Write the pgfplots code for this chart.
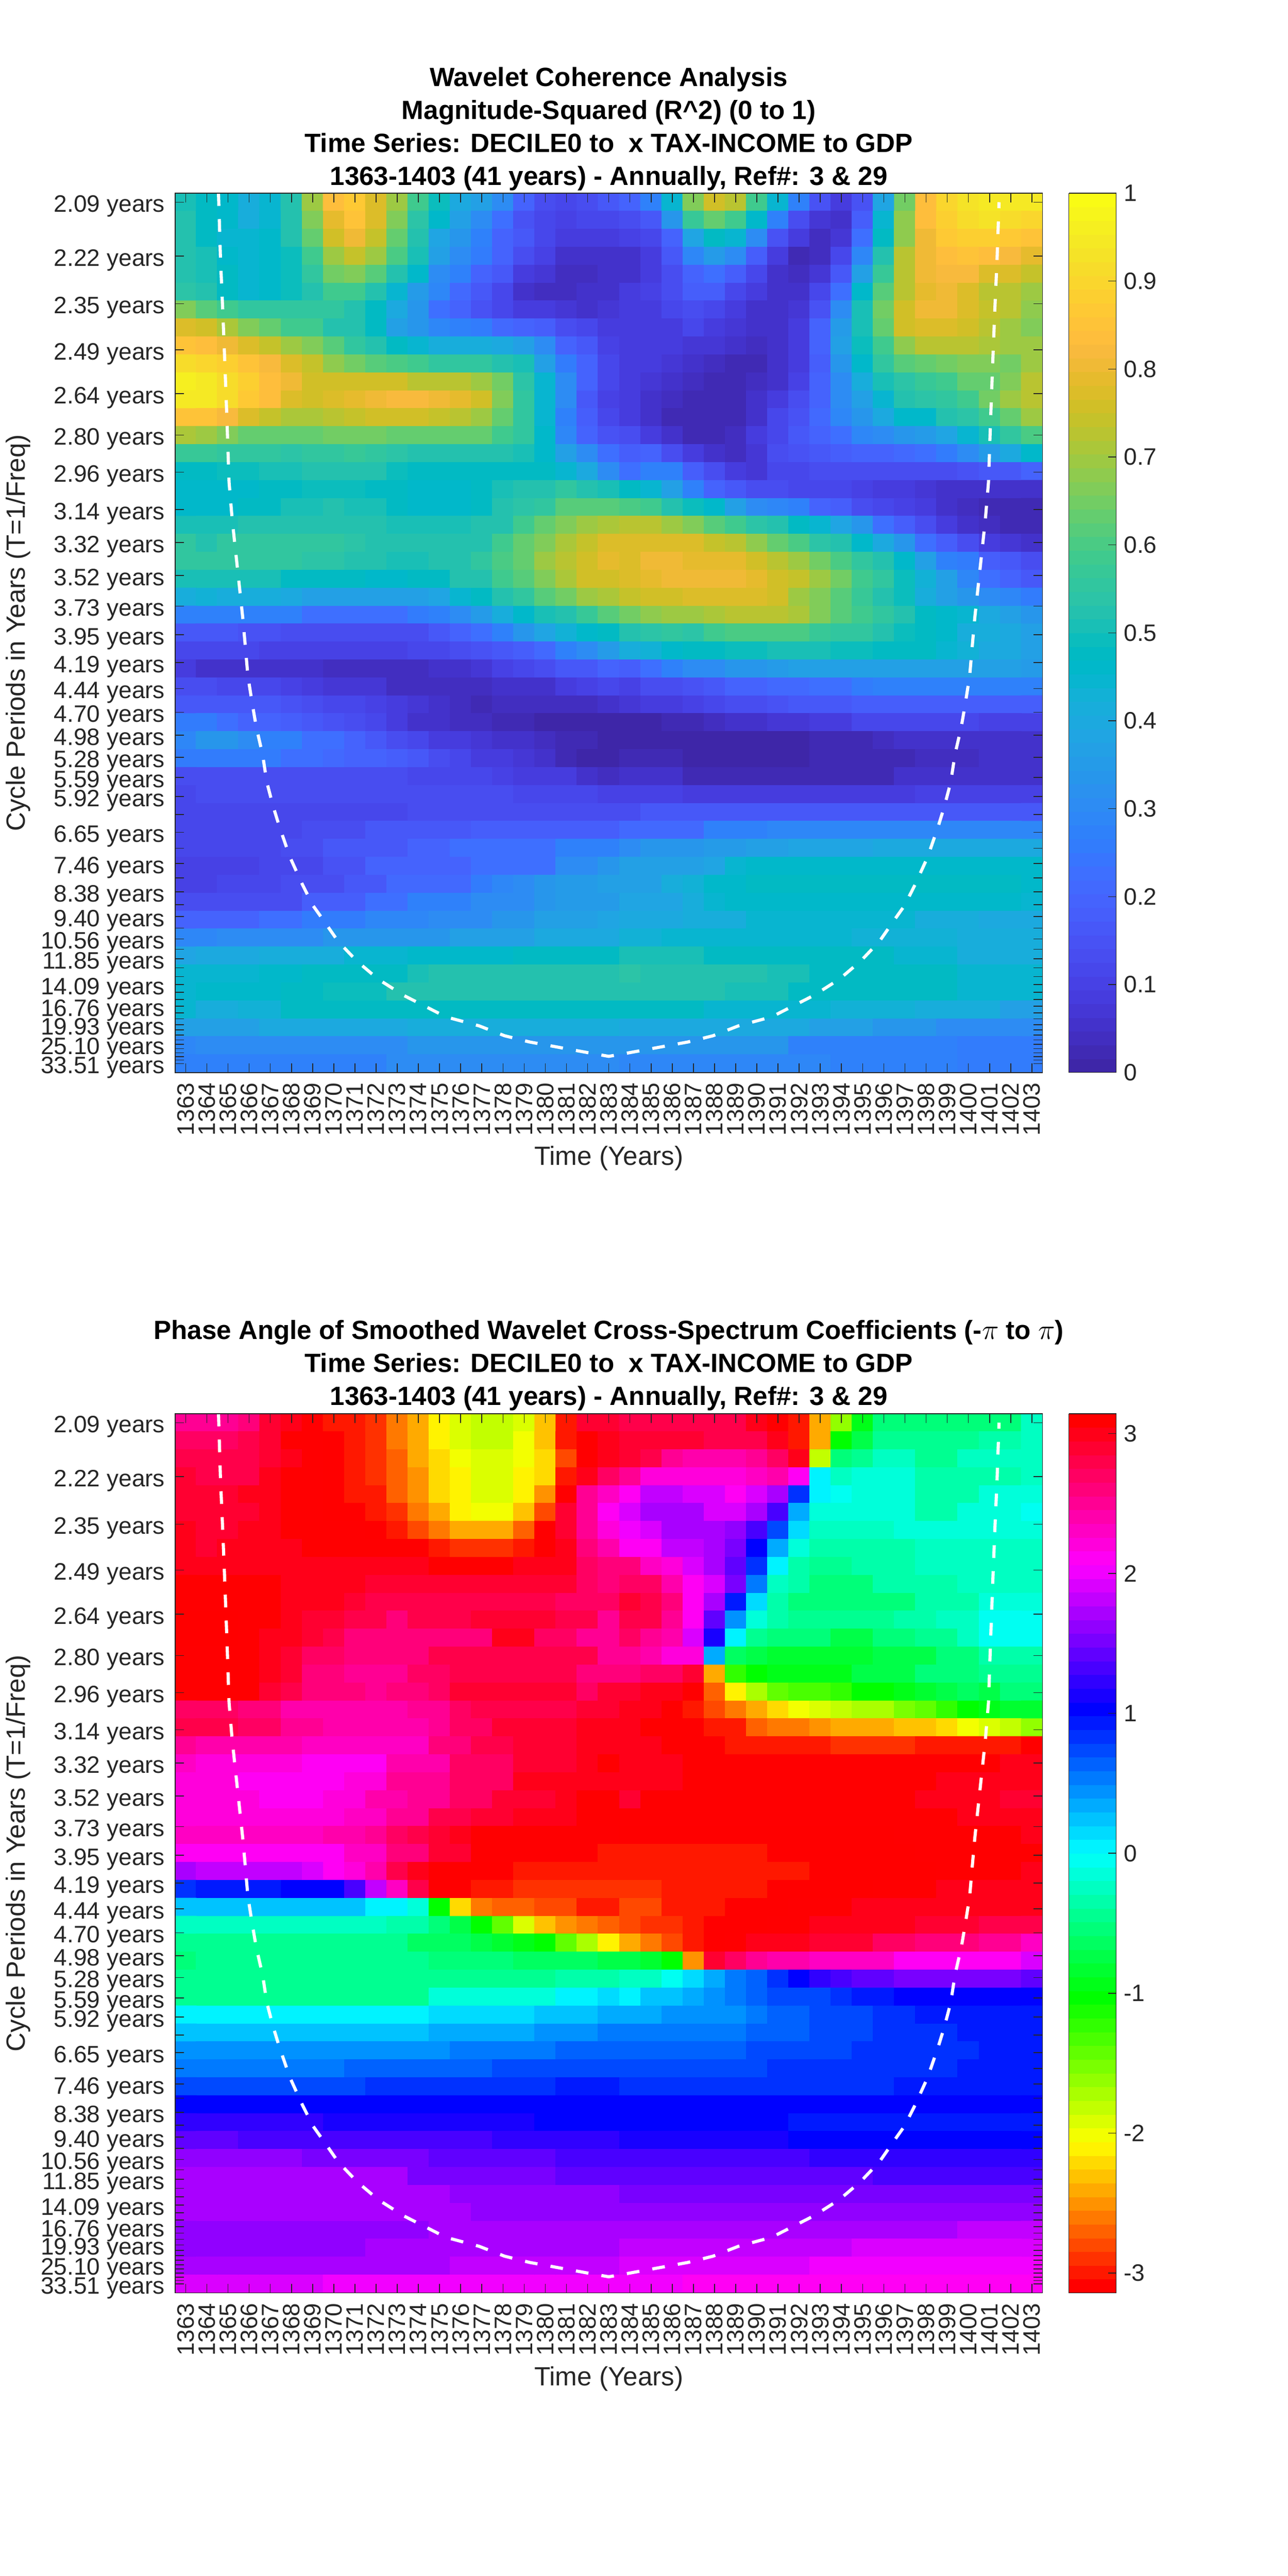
\documentclass[border=0pt]{standalone}
\usepackage{pgfplots}
\usepackage{pgfplotstable}
\usepackage{fontspec}
\setmainfont{Liberation Sans}
\pgfplotsset{compat=1.18}
\definecolor{axgray}{HTML}{262626}
\pgfplotsset{colormap={parula}{
rgb=(.2422,.1504,.6603) rgb=(.2504,.1650,.7076) rgb=(.2578,.1818,.7511) rgb=(.2647,.1978,.7952)
rgb=(.2706,.2147,.8364) rgb=(.2751,.2342,.8710) rgb=(.2783,.2559,.8991) rgb=(.2803,.2782,.9221)
rgb=(.2813,.3006,.9414) rgb=(.2810,.3228,.9579) rgb=(.2795,.3447,.9717) rgb=(.2760,.3667,.9829)
rgb=(.2699,.3892,.9906) rgb=(.2602,.4123,.9952) rgb=(.2440,.4358,.9988) rgb=(.2206,.4603,.9973)
rgb=(.1963,.4847,.9892) rgb=(.1834,.5074,.9798) rgb=(.1786,.5289,.9682) rgb=(.1764,.5499,.9520)
rgb=(.1687,.5703,.9359) rgb=(.1540,.5902,.9218) rgb=(.1460,.6091,.9079) rgb=(.1380,.6276,.8973)
rgb=(.1248,.6459,.8883) rgb=(.1113,.6635,.8763) rgb=(.0952,.6798,.8598) rgb=(.0689,.6948,.8394)
rgb=(.0297,.7082,.8163) rgb=(.0036,.7203,.7917) rgb=(.0067,.7312,.7660) rgb=(.0433,.7411,.7394)
rgb=(.0964,.7500,.7120) rgb=(.1408,.7584,.6842) rgb=(.1717,.7670,.6554) rgb=(.1938,.7758,.6251)
rgb=(.2161,.7843,.5923) rgb=(.2470,.7918,.5567) rgb=(.2906,.7973,.5188) rgb=(.3406,.8008,.4789)
rgb=(.3909,.8029,.4354) rgb=(.4456,.8024,.3909) rgb=(.5044,.7993,.3480) rgb=(.5616,.7942,.3045)
rgb=(.6174,.7876,.2612) rgb=(.6720,.7793,.2227) rgb=(.7242,.7698,.1910) rgb=(.7738,.7598,.1646)
rgb=(.8203,.7498,.1535) rgb=(.8634,.7406,.1596) rgb=(.9035,.7330,.1774) rgb=(.9393,.7288,.2099)
rgb=(.9728,.7298,.2394) rgb=(.9956,.7434,.2371) rgb=(.9970,.7659,.2199) rgb=(.9952,.7893,.2028)
rgb=(.9892,.8136,.1885) rgb=(.9786,.8386,.1766) rgb=(.9676,.8639,.1643) rgb=(.9610,.8890,.1537)
rgb=(.9597,.9135,.1423) rgb=(.9628,.9373,.1265) rgb=(.9691,.9606,.1064) rgb=(.9769,.9839,.0805)}}
\pgfplotsset{colormap={hsvbase}{rgb=(1,0,0) rgb=(1,1,0) rgb=(0,1,0) rgb=(0,1,1) rgb=(0,0,1) rgb=(1,0,1) rgb=(1,0,0)}}
\pgfplotsset{colormap={hsvsixtyfour}{samples of colormap=(64 of hsvbase)}}
\pgfplotstableread[header=false]{
.50 .48 .46 .42 .45 .53 .70 .84 .87 .78 .70 .58 .49 .40 .36 .30 .19 .13 .11 .14 .17 .19 .27 .44 .66 .76 .72 .58 .44 .27 .15 .09 .15 .38 .65 .83 .90 .93 .95 .95 .94
.52 .47 .46 .42 .45 .52 .66 .79 .85 .77 .67 .54 .46 .36 .30 .22 .15 .12 .10 .11 .12 .13 .17 .33 .57 .64 .58 .46 .27 .13 .07 .06 .18 .44 .68 .84 .89 .92 .93 .92 .90
.52 .48 .45 .44 .46 .52 .63 .75 .80 .74 .63 .52 .38 .34 .28 .20 .16 .12 .08 .08 .08 .10 .12 .20 .38 .48 .44 .30 .15 .08 .04 .07 .22 .48 .68 .81 .87 .89 .88 .87 .85
.52 .50 .46 .45 .46 .49 .59 .70 .74 .70 .60 .50 .36 .30 .26 .19 .14 .10 .06 .05 .05 .06 .09 .16 .29 .35 .30 .18 .09 .03 .04 .12 .29 .52 .72 .80 .84 .85 .84 .82 .79
.53 .51 .48 .45 .46 .49 .55 .65 .66 .62 .52 .46 .30 .27 .20 .16 .09 .07 .04 .04 .05 .06 .08 .13 .20 .22 .18 .11 .06 .04 .07 .17 .36 .57 .73 .80 .82 .82 .78 .77 .74
.54 .52 .48 .45 .46 .49 .52 .58 .58 .52 .45 .35 .29 .21 .17 .12 .06 .04 .04 .05 .06 .08 .10 .14 .18 .18 .12 .08 .05 .05 .12 .22 .46 .62 .72 .79 .81 .78 .73 .72 .70
.66 .62 .58 .55 .55 .55 .55 .55 .52 .48 .40 .34 .23 .19 .15 .12 .09 .08 .07 .06 .07 .08 .09 .12 .13 .11 .09 .06 .05 .07 .15 .30 .50 .65 .76 .81 .81 .77 .74 .72 .68
.78 .75 .71 .67 .63 .58 .59 .53 .52 .48 .37 .33 .29 .28 .26 .21 .20 .18 .14 .11 .08 .08 .08 .09 .11 .09 .07 .05 .05 .08 .19 .35 .51 .64 .75 .78 .78 .76 .72 .70 .67
.85 .84 .80 .77 .74 .69 .66 .62 .56 .52 .48 .44 .42 .41 .41 .40 .36 .30 .20 .16 .10 .09 .08 .08 .07 .07 .05 .04 .05 .09 .19 .36 .49 .58 .68 .72 .72 .72 .71 .70 .70
.92 .90 .88 .85 .82 .77 .74 .68 .65 .62 .60 .58 .56 .55 .55 .53 .51 .37 .26 .19 .11 .09 .08 .07 .05 .04 .03 .03 .05 .09 .18 .34 .46 .55 .61 .63 .65 .66 .66 .65 .70
.96 .95 .92 .88 .84 .81 .76 .75 .75 .75 .75 .73 .73 .72 .70 .65 .54 .45 .30 .20 .12 .09 .07 .05 .04 .03 .03 .04 .06 .10 .19 .31 .41 .50 .54 .57 .59 .63 .64 .66 .73
.94 .94 .91 .87 .83 .78 .76 .77 .79 .81 .82 .82 .80 .79 .76 .67 .56 .45 .30 .16 .10 .08 .05 .04 .03 .03 .03 .05 .09 .13 .20 .30 .36 .45 .52 .54 .55 .59 .65 .69 .72
.85 .85 .82 .77 .74 .71 .71 .72 .74 .75 .75 .75 .74 .73 .70 .64 .56 .44 .28 .18 .11 .08 .05 .03 .02 .02 .03 .05 .11 .15 .21 .29 .34 .40 .46 .46 .52 .54 .59 .64 .69
.71 .69 .67 .63 .63 .64 .64 .65 .65 .65 .64 .64 .64 .64 .63 .58 .55 .46 .29 .20 .15 .14 .08 .05 .03 .03 .04 .08 .12 .17 .20 .23 .29 .31 .33 .35 .38 .45 .50 .55 .60
.57 .57 .56 .55 .55 .54 .55 .56 .57 .56 .54 .53 .52 .52 .52 .52 .51 .46 .37 .30 .22 .18 .20 .14 .09 .05 .04 .07 .13 .15 .17 .18 .19 .20 .21 .22 .26 .30 .35 .40 .46
.48 .48 .49 .49 .50 .50 .52 .52 .52 .52 .49 .48 .48 .47 .48 .48 .48 .47 .44 .40 .31 .23 .28 .27 .18 .14 .09 .07 .11 .12 .13 .14 .14 .14 .14 .14 .14 .15 .16 .17 .19
.46 .46 .46 .46 .48 .48 .49 .49 .49 .48 .47 .46 .46 .46 .47 .50 .52 .53 .55 .53 .50 .47 .45 .36 .27 .20 .17 .14 .13 .12 .11 .11 .10 .09 .08 .07 .06 .05 .05 .06 .06
.46 .46 .46 .48 .48 .50 .50 .52 .50 .50 .48 .46 .46 .46 .48 .52 .54 .55 .61 .61 .61 .60 .58 .52 .49 .46 .36 .30 .29 .27 .20 .18 .14 .12 .10 .08 .05 .04 .03 .02 .02
.50 .50 .50 .52 .52 .52 .53 .53 .52 .52 .50 .50 .50 .50 .52 .52 .58 .64 .67 .69 .71 .72 .72 .70 .66 .62 .58 .54 .52 .48 .44 .38 .33 .23 .18 .14 .09 .06 .04 .03 .02
.55 .53 .55 .55 .55 .55 .55 .55 .54 .52 .52 .52 .52 .52 .53 .59 .63 .67 .71 .74 .77 .78 .77 .77 .77 .74 .72 .68 .63 .60 .54 .52 .46 .40 .34 .23 .18 .14 .09 .07 .05
.55 .55 .55 .55 .55 .55 .54 .54 .52 .52 .50 .50 .52 .52 .56 .60 .63 .69 .72 .76 .79 .78 .80 .81 .79 .79 .79 .76 .72 .70 .65 .60 .55 .52 .46 .37 .28 .26 .18 .17 .13
.50 .51 .51 .51 .51 .48 .48 .47 .47 .46 .46 .47 .47 .52 .53 .58 .62 .67 .71 .75 .76 .77 .79 .81 .81 .81 .81 .79 .76 .74 .70 .65 .58 .55 .49 .43 .37 .29 .22 .20 .17
.41 .43 .42 .42 .42 .40 .36 .36 .36 .36 .36 .37 .38 .44 .48 .52 .56 .61 .65 .69 .71 .74 .75 .75 .77 .77 .77 .77 .75 .70 .66 .62 .57 .52 .49 .42 .37 .34 .31 .29 .26
.28 .28 .28 .28 .27 .27 .22 .22 .22 .22 .22 .26 .28 .30 .35 .42 .46 .50 .52 .57 .62 .65 .68 .70 .70 .71 .72 .72 .72 .71 .66 .62 .58 .55 .52 .48 .46 .44 .40 .36 .33
.17 .17 .17 .15 .15 .14 .14 .14 .14 .14 .14 .14 .17 .19 .22 .27 .33 .38 .43 .46 .48 .52 .54 .55 .54 .58 .60 .60 .60 .60 .57 .56 .55 .53 .49 .48 .46 .42 .41 .40 .36
.11 .11 .11 .11 .10 .10 .10 .10 .10 .10 .10 .11 .12 .13 .15 .16 .18 .21 .27 .30 .35 .42 .43 .46 .48 .48 .49 .49 .50 .50 .50 .49 .49 .48 .48 .47 .45 .43 .40 .40 .37
.08 .06 .06 .06 .06 .05 .05 .04 .04 .04 .04 .04 .06 .06 .07 .10 .12 .14 .17 .17 .19 .18 .22 .28 .30 .31 .33 .34 .35 .36 .36 .36 .36 .36 .36 .36 .36 .36 .36 .36 .35
.13 .13 .12 .12 .11 .10 .09 .07 .07 .07 .04 .04 .04 .04 .04 .05 .05 .05 .09 .10 .11 .10 .14 .14 .15 .16 .19 .20 .21 .21 .22 .23 .26 .27 .27 .27 .27 .27 .27 .27 .27
.17 .17 .17 .17 .16 .15 .13 .12 .11 .10 .09 .07 .06 .04 .03 .04 .04 .04 .04 .04 .05 .07 .08 .09 .10 .11 .13 .14 .15 .16 .16 .16 .18 .18 .18 .18 .18 .18 .18 .18 .18
.26 .26 .22 .20 .20 .18 .17 .15 .14 .11 .09 .06 .05 .04 .04 .03 .03 .01 .01 .01 .01 .01 .01 .03 .03 .04 .06 .06 .07 .07 .09 .09 .11 .11 .12 .12 .12 .12 .10 .10 .10
.29 .33 .33 .30 .28 .27 .23 .22 .20 .17 .14 .12 .09 .08 .07 .06 .05 .04 .02 .02 0 0 0 0 0 0 0 0 0 0 .03 .03 .03 .04 .05 .05 .06 .06 .06 .06 .06
.26 .26 .26 .26 .26 .23 .22 .21 .20 .19 .18 .16 .14 .12 .09 .08 .07 .06 .02 .01 .01 .03 .02 .02 0 0 0 0 0 0 .02 .02 .02 .02 .03 .04 .04 .04 .05 .05 .05
.14 .14 .14 .14 .14 .14 .14 .14 .14 .13 .13 .12 .12 .12 .11 .10 .09 .08 .08 .06 .04 .05 .05 .05 .03 .03 .03 .03 .03 .03 .03 .03 .03 .03 .05 .05 .05 .05 .05 .06 .06
.11 .13 .13 .13 .13 .13 .13 .13 .13 .13 .13 .13 .13 .13 .13 .13 .12 .12 .11 .11 .10 .10 .10 .10 .09 .09 .09 .09 .09 .09 .09 .09 .09 .09 .09 .10 .10 .10 .10 .10 .10
.11 .12 .12 .12 .11 .11 .11 .12 .12 .12 .12 .14 .14 .14 .14 .14 .14 .14 .14 .14 .14 .14 .16 .16 .16 .16 .16 .16 .16 .16 .16 .16 .16 .16 .16 .16 .16 .16 .16 .16 .16
.11 .11 .12 .12 .12 .12 .13 .14 .14 .16 .16 .16 .16 .16 .18 .18 .18 .18 .18 .18 .18 .21 .21 .21 .21 .27 .27 .27 .29 .29 .29 .29 .29 .29 .29 .29 .29 .29 .29 .29 .29
.11 .11 .12 .12 .12 .13 .13 .16 .16 .17 .17 .20 .20 .22 .22 .22 .22 .22 .27 .27 .27 .31 .33 .34 .34 .35 .35 .37 .37 .38 .38 .38 .38 .40 .40 .40 .40 .40 .40 .40 .40
.10 .10 .10 .10 .12 .12 .12 .15 .15 .19 .19 .19 .19 .19 .22 .22 .22 .22 .30 .30 .33 .36 .36 .37 .37 .38 .44 .46 .46 .46 .46 .46 .46 .46 .46 .46 .46 .46 .46 .46 .46
.10 .10 .11 .11 .11 .13 .13 .13 .16 .16 .21 .21 .21 .21 .26 .29 .30 .33 .35 .35 .36 .37 .37 .41 .43 .46 .46 .47 .47 .47 .47 .47 .47 .47 .47 .47 .47 .47 .47 .47 .46
.13 .13 .14 .14 .14 .14 .18 .18 .18 .22 .22 .27 .27 .27 .30 .30 .30 .33 .35 .35 .35 .38 .38 .38 .42 .45 .46 .46 .46 .46 .46 .46 .46 .46 .46 .46 .46 .46 .46 .46 .44
.19 .19 .20 .20 .22 .22 .26 .26 .26 .29 .29 .29 .31 .31 .31 .34 .34 .36 .36 .36 .38 .40 .40 .40 .42 .42 .42 .44 .44 .44 .44 .44 .44 .44 .44 .42 .42 .42 .40 .40 .40
.29 .29 .31 .31 .31 .31 .31 .34 .34 .34 .34 .34 .34 .36 .36 .36 .36 .40 .40 .40 .40 .43 .43 .45 .45 .45 .45 .45 .45 .45 .45 .45 .43 .43 .43 .43 .43 .41 .41 .41 .41
.38 .40 .40 .40 .42 .42 .42 .42 .45 .45 .45 .46 .46 .46 .46 .46 .48 .48 .48 .48 .48 .50 .50 .50 .50 .47 .47 .47 .47 .47 .47 .47 .47 .47 .44 .44 .44 .42 .42 .42 .42
.45 .45 .45 .45 .46 .46 .47 .47 .48 .48 .48 .50 .52 .52 .52 .52 .52 .52 .52 .52 .52 .54 .52 .52 .52 .52 .52 .52 .50 .50 .47 .47 .47 .47 .47 .47 .47 .44 .44 .44 .44
.45 .46 .46 .46 .46 .48 .48 .49 .49 .49 .52 .52 .52 .52 .52 .52 .53 .53 .53 .53 .53 .52 .52 .52 .52 .52 .50 .50 .50 .47 .47 .47 .47 .47 .47 .47 .47 .45 .45 .45 .45
.44 .42 .42 .43 .43 .47 .47 .47 .47 .47 .47 .47 .47 .47 .47 .47 .47 .47 .47 .47 .47 .47 .47 .47 .47 .45 .45 .45 .45 .45 .45 .43 .43 .43 .43 .41 .41 .41 .41 .36 .36
.36 .37 .37 .37 .40 .40 .40 .40 .40 .40 .40 .41 .41 .41 .41 .41 .41 .41 .41 .41 .41 .40 .40 .40 .40 .40 .40 .40 .40 .40 .37 .37 .37 .34 .34 .34 .31 .31 .31 .31 .31
.29 .30 .30 .30 .30 .30 .30 .30 .30 .30 .30 .33 .33 .33 .33 .33 .33 .33 .33 .33 .33 .33 .33 .33 .33 .33 .33 .33 .33 .28 .28 .28 .28 .28 .28 .28 .28 .26 .26 .26 .26
.27 .27 .27 .27 .27 .27 .27 .27 .27 .27 .30 .30 .30 .30 .30 .30 .30 .30 .30 .30 .30 .29 .29 .29 .29 .29 .29 .29 .29 .29 .29 .28 .28 .28 .28 .28 .28 .26 .26 .26 .26
}\coherence
\pgfplotstableread[header=false]{
2.5 2.5 2.5 2.6 2.85 3 3.1 -3 -2.95 -2.9 -2.65 -2.45 -2.1 -1.95 -1.85 -1.85 -1.95 -2.35 -3 2.9 2.9 2.75 2.75 2.75 2.75 2.75 2.75 2.95 3.1 -3 -2.4 -1.6 -0.9 -0.55 -0.55 -0.55 -0.5 -0.5 -0.5 -0.5 -0.2
2.7 2.7 2.7 2.75 2.9 3.05 3.1 -3.05 -2.95 -2.85 -2.6 -2.4 -2.1 -1.95 -1.85 -1.85 -2 -2.3 -2.95 3.1 3 2.9 2.85 2.85 2.85 2.75 2.75 2.8 3 -3 -2.45 -1 -0.7 -0.45 -0.45 -0.45 -0.45 -0.45 -0.3 -0.3 -0.2
2.8 2.8 2.8 2.8 2.9 3 3.1 -3.05 -2.95 -2.85 -2.7 -2.45 -2.2 -2.05 -1.9 -1.9 -2.05 -2.25 -2.75 3.1 2.95 2.85 2.75 2.55 2.45 2.45 2.45 2.55 2.65 2.95 -1.85 -0.5 -0.45 -0.25 -0.25 -0.45 -0.45 -0.25 -0.25 -0.25 -0.25
2.9 2.75 2.75 2.75 2.95 3.05 3.1 -3.05 -3 -2.85 -2.7 -2.55 -2.2 -2.1 -1.95 -1.95 -2.1 -2.25 -3 2.95 2.7 2.5 2.2 2.2 2.2 2.2 2.25 2.3 2.4 2.15 0 -0.2 -0.15 -0.15 -0.15 -0.3 -0.3 -0.3 -0.3 -0.3 -0.2
2.9 2.9 2.9 2.95 3 3.1 3.1 -3.1 -2.95 -2.95 -2.7 -2.55 -2.25 -2.1 -1.95 -1.95 -2.1 -2.5 3.1 2.5 2.3 2.15 1.85 1.85 1.95 1.95 2.1 1.95 1.75 0.8 0 -0.05 -0.15 -0.15 -0.15 -0.3 -0.3 -0.3 -0.15 -0.15 -0.15
2.9 2.85 2.85 2.85 3 3.1 3.1 -3.05 -3.05 -2.95 -2.85 -2.65 -2.4 -2.15 -2.05 -2.05 -2.3 -2.8 2.9 2.5 2.15 1.9 1.75 1.75 1.75 1.9 1.9 1.75 1.3 0.35 -0.1 -0.15 -0.15 -0.15 -0.15 -0.35 -0.35 -0.15 -0.15 -0.15 -0.05
2.95 2.9 2.9 3 3 3.05 3.05 3.1 3.1 -3.05 -2.95 -2.75 -2.6 -2.45 -2.45 -2.45 -2.7 3.1 2.9 2.5 2.2 2 1.9 1.75 1.75 1.75 1.6 1.35 0.75 0.1 -0.2 -0.2 -0.2 -0.2 -0.15 -0.15 -0.15 -0.15 -0.15 -0.1 -0.1
2.95 2.9 3 3 3 3 3.1 3.1 3.1 3.1 3.1 3.1 -3 -2.9 -2.85 -2.85 -3 3.1 2.95 2.6 2.4 2.1 2.1 1.85 1.85 1.75 1.55 1.05 0.35 -0.1 -0.35 -0.35 -0.35 -0.35 -0.35 -0.2 -0.2 -0.2 -0.2 -0.2 -0.2
3 3 3 3 3 3 3 3 3 3 3 3 3.1 3.1 3.1 3.1 2.95 2.95 2.95 2.7 2.6 2.6 2.3 2.2 1.9 1.75 1.45 0.8 0 -0.3 -0.45 -0.45 -0.3 -0.3 -0.3 -0.25 -0.25 -0.25 -0.25 -0.25 -0.25
3.05 3.05 3.05 3.05 3.05 3 3 2.95 2.95 2.85 2.85 2.85 2.9 2.9 2.9 2.9 2.9 2.9 2.85 2.7 2.6 2.7 2.7 2.4 2.15 1.9 1.5 0.5 -0.2 -0.3 -0.5 -0.5 -0.5 -0.3 -0.3 -0.3 -0.3 -0.2 -0.2 -0.2 -0.2
3.1 3.1 3.1 3.1 3.1 3 3 2.95 2.85 2.75 2.75 2.75 2.8 2.8 2.8 2.8 2.8 2.8 2.7 2.7 2.65 2.85 2.75 2.6 2.15 1.75 0.9 0.1 -0.3 -0.5 -0.5 -0.5 -0.5 -0.5 -0.5 -0.3 -0.3 -0.3 -0.1 -0.1 -0.1
-3.1 -3.1 -3.1 3.1 3.1 3 2.9 2.85 2.75 2.75 2.6 2.75 2.75 2.75 2.85 2.85 2.85 2.85 2.75 2.75 2.55 2.75 2.75 2.55 2.1 1.45 0.4 -0.1 -0.3 -0.45 -0.45 -0.45 -0.45 -0.45 -0.35 -0.35 -0.2 -0.2 -0.05 -0.05 -0.05
-3.1 -3.1 -3.1 3.1 3 2.95 2.85 2.75 2.6 2.6 2.6 2.6 2.6 2.6 2.6 2.95 2.95 2.7 2.7 2.55 2.55 2.65 2.5 2.45 1.9 1.1 0 -0.45 -0.5 -0.5 -0.5 -0.7 -0.7 -0.55 -0.55 -0.4 -0.4 -0.25 -0.05 -0.05 -0.05
3.1 3.1 3.1 3.05 3 2.9 2.7 2.7 2.6 2.6 2.6 2.6 2.75 2.75 2.75 2.75 2.75 2.75 2.75 2.75 2.5 2.5 2.45 2.25 2.2 0.3 -0.6 -0.7 -0.85 -0.85 -0.85 -0.85 -0.85 -0.7 -0.7 -0.7 -0.5 -0.5 -0.3 -0.35 -0.35
3.05 3.05 3.05 3.05 2.95 2.85 2.6 2.6 2.55 2.55 2.55 2.65 2.7 2.8 2.8 2.8 2.8 2.8 2.8 2.6 2.6 2.6 2.7 2.7 2.9 -2.4 -1.2 -1 -0.95 -0.95 -0.95 -0.95 -0.75 -0.75 -0.75 -0.55 -0.55 -0.55 -0.45 -0.45 -0.45
3.05 3.05 3.05 3.05 2.9 2.8 2.6 2.6 2.6 2.5 2.6 2.6 2.65 2.85 2.85 2.85 2.85 2.85 2.85 2.7 2.85 2.85 2.95 3 3.1 -2.7 -2.1 -1.75 -1.45 -1.35 -1.3 -1.2 -1.05 -1.05 -0.95 -0.8 -0.75 -0.65 -0.7 -0.55 -0.55
2.7 2.7 2.7 2.6 2.6 2.45 2.45 2.4 2.4 2.4 2.4 2.55 2.55 2.7 2.8 2.8 2.8 2.8 2.8 2.9 2.9 2.95 2.95 3.05 -3 -2.8 -2.65 -2.4 -2.2 -2.05 -1.95 -1.8 -1.7 -1.7 -1.5 -1.45 -1.2 -1 -0.95 -0.85 -0.85
2.75 2.75 2.75 2.65 2.65 2.55 2.55 2.45 2.45 2.45 2.45 2.45 2.55 2.7 2.7 2.85 2.85 2.85 2.85 2.95 3 3 3.05 3.05 3.1 -3 -2.95 -2.7 -2.65 -2.65 -2.5 -2.4 -2.4 -2.4 -2.3 -2.3 -2.2 -2.05 -1.95 -1.85 -1.65
2.55 2.4 2.4 2.4 2.4 2.4 2.3 2.3 2.3 2.35 2.35 2.35 2.6 2.6 2.75 2.75 2.85 2.85 2.85 3 3 3 3 3.05 3.1 3.1 -3 -3 -2.95 -2.95 -2.95 -2.85 -2.85 -2.85 -2.85 -2.95 -2.95 -2.95 -2.95 -2.95 -3.05
2.3 2.2 2.2 2.2 2.2 2.2 2.15 2.15 2.15 2.15 2.45 2.45 2.45 2.65 2.65 2.65 2.85 2.85 2.85 2.95 3.05 3 3 3 3.05 3.05 3.1 3.1 3.1 3.1 3.1 3.1 3.1 3.1 3.1 3.1 3.1 3.05 3.05 3 3
2.2 2.2 2.2 2.1 2.1 2.1 2.1 2.1 2.25 2.25 2.5 2.5 2.5 2.7 2.7 2.7 2.95 2.95 2.95 3 3 3 3 3 3.1 3.1 3.1 3.1 3.1 3.1 3.1 3.1 3.1 3.1 3.1 3.1 3 3 3 2.95 2.95
2.2 2.2 2.2 2.2 2.15 2.15 2.15 2.2 2.2 2.4 2.4 2.55 2.55 2.7 2.7 2.85 2.85 2.85 2.95 3.05 3.05 2.9 3.05 3.05 3.05 3.05 3.05 3.05 3.05 3.05 3.05 3.05 3.05 3.05 3.05 3 3 3 3 2.9 2.9
2.25 2.25 2.25 2.25 2.2 2.2 2.2 2.2 2.35 2.35 2.5 2.5 2.75 2.75 2.9 2.9 3 3 3 3.1 3.1 3.1 3.1 3.1 3.1 3.1 3.1 3.1 3.1 3.05 3.05 3.05 3.05 3.05 3.05 3.05 3.05 3 3 3 3
2.3 2.3 2.3 2.3 2.3 2.3 2.35 2.4 2.45 2.55 2.65 2.8 2.9 3 3.1 3.1 3.1 3.1 3.1 3.1 3.1 -3.1 -3.1 -3.1 -3.1 -3.1 -3.1 -3.1 -3.1 -3.1 -3.1 -3.1 -3.1 -3.1 3.1 3.1 3.1 3.1 3.1 3.1 3
2.1 2.1 2.1 2.1 2.1 2.1 2.15 2.15 2.35 2.35 2.6 2.6 2.85 2.85 3.05 3.05 3.1 3.1 3.1 3.1 -3 -3 -3 -3 -3 -3 -3 -3 -3.12 -3.12 -3.12 -3.12 -3.12 -3.12 -3.12 3.1 3.1 3.1 3.1 3.1 3.05
1.7 1.85 1.85 1.85 1.85 1.85 1.95 2.1 2.2 2.45 2.75 2.95 3.1 -3.1 -3.05 -3.05 -3 -3 -3 -3 -3 -3 -3 -3 -3 -3 -3 -3 -3 -3 -3.13 -3.13 -3.13 -3.13 -3.13 -3.13 3.05 3.05 3.05 3.05 3
0.8 0.9 0.9 0.9 0.9 1 1 1.05 1.3 1.8 2.3 2.8 3.05 -3.13 -3 -3 -2.9 -2.9 -2.9 -2.9 -2.9 -2.85 -2.85 -3 -3 -3 -3 -3 -3.12 -3.12 -3.12 -3.12 -3.12 3.05 3.05 3.05 3 3 3 3 3
0.2 0.2 0.2 0.2 0.2 0.2 0.2 0.2 0.2 0.05 0.05 -0.15 -1.05 -2.25 -2.65 -2.7 -2.7 -2.8 -2.8 -2.95 -2.95 -2.8 -2.8 -3 -3 -3 -3.12 -3.12 -3.12 3.1 3.1 3.1 3 3 3 3 2.95 2.95 2.95 2.95 2.95
-0.2 -0.2 -0.2 -0.2 -0.2 -0.2 -0.2 -0.2 -0.2 -0.2 -0.3 -0.3 -0.5 -0.7 -1 -1.4 -1.9 -2.35 -2.5 -2.6 -2.7 -2.75 -2.9 -2.9 -3 -3.12 -3.12 -3.12 3.1 3.1 3 3 2.95 2.95 2.95 2.85 2.85 2.85 2.75 2.75 2.75
-0.45 -0.45 -0.45 -0.45 -0.45 -0.45 -0.45 -0.45 -0.45 -0.45 -0.45 -0.6 -0.6 -0.6 -0.7 -0.8 -0.95 -1.05 -1.45 -1.75 -2.1 -2.45 -2.65 -2.8 -3 -3.1 3.05 2.95 2.95 2.95 2.85 2.85 2.85 2.7 2.7 2.6 2.6 2.6 2.5 2.5 2.35
-0.55 -0.4 -0.4 -0.4 -0.4 -0.4 -0.4 -0.4 -0.4 -0.4 -0.4 -0.4 -0.55 -0.55 -0.55 -0.55 -0.65 -0.65 -0.65 -0.65 -0.75 -0.75 -0.85 -1.05 -2.5 2.9 2.65 2.5 2.4 2.4 2.3 2.3 2.3 2.3 2.15 2.15 2.15 2.15 2.15 2.1 1.95
-0.4 -0.4 -0.4 -0.4 -0.4 -0.4 -0.4 -0.4 -0.4 -0.4 -0.4 -0.4 -0.4 -0.4 -0.4 -0.4 -0.4 -0.4 -0.3 -0.3 -0.3 -0.2 -0.2 -0.05 0.15 0.3 0.5 0.65 0.85 1.05 1.2 1.35 1.45 1.45 1.5 1.5 1.5 1.5 1.5 1.5 1.45
-0.4 -0.4 -0.4 -0.4 -0.4 -0.4 -0.4 -0.4 -0.4 -0.4 -0.4 -0.4 -0.15 -0.15 -0.15 -0.15 -0.15 -0.15 0 0 0.15 0.05 0.2 0.2 0.3 0.4 0.5 0.6 0.7 0.7 0.7 0.85 0.95 0.95 1.05 1.05 1.05 1.05 1.05 1.05 1.05
0 0 0 0 0 0 0 0 0 0 0 0 0.15 0.15 0.15 0.15 0.15 0.2 0.2 0.2 0.3 0.3 0.3 0.4 0.4 0.45 0.45 0.55 0.65 0.65 0.75 0.75 0.75 0.85 0.85 0.98 0.98 0.98 0.98 0.98 0.98
0.2 0.2 0.2 0.2 0.2 0.2 0.2 0.2 0.2 0.2 0.2 0.2 0.3 0.3 0.3 0.3 0.3 0.4 0.4 0.4 0.5 0.5 0.5 0.5 0.55 0.55 0.55 0.62 0.62 0.62 0.75 0.75 0.75 0.85 0.85 0.85 0.85 0.98 0.98 0.98 0.98
0.4 0.4 0.4 0.4 0.4 0.4 0.4 0.4 0.4 0.4 0.4 0.4 0.4 0.5 0.5 0.5 0.5 0.5 0.6 0.6 0.6 0.6 0.65 0.65 0.65 0.65 0.65 0.75 0.75 0.75 0.75 0.75 0.85 0.85 0.85 0.85 0.85 0.85 0.95 0.95 0.95
0.5 0.5 0.5 0.5 0.5 0.5 0.5 0.5 0.6 0.6 0.6 0.6 0.6 0.6 0.6 0.7 0.7 0.7 0.7 0.7 0.7 0.72 0.72 0.72 0.72 0.72 0.72 0.72 0.85 0.85 0.85 0.85 0.85 0.85 0.85 0.85 0.85 0.98 0.98 0.98 0.98
0.75 0.75 0.75 0.75 0.75 0.75 0.75 0.75 0.75 0.85 0.85 0.85 0.85 0.85 0.85 0.85 0.85 0.85 0.95 0.95 0.95 0.88 0.88 0.88 0.88 0.88 0.88 0.88 0.88 0.88 0.88 0.88 0.88 0.88 0.98 0.98 0.98 0.98 0.98 0.98 0.98
1.05 1.05 1.05 1.05 1.05 1.05 1.05 1.05 1.05 1.05 1.05 1.05 1.05 1.05 1.05 1.05 1.05 1.05 1.05 1.05 1.05 1 1 1 1 1 1 1 1 1 1 1 1 1 1 1 1 1 1 1 1
1.25 1.25 1.25 1.25 1.25 1.25 1.25 1.15 1.15 1.15 1.15 1.15 1.15 1.15 1.15 1.15 1.15 1.05 1.05 1.05 1.05 1.05 1.05 1.05 1.05 1.05 1.05 1.05 1.05 0.98 0.98 0.98 0.98 0.98 0.98 0.98 0.98 0.98 0.98 0.98 0.98
1.4 1.4 1.4 1.35 1.35 1.35 1.35 1.35 1.35 1.3 1.3 1.3 1.3 1.3 1.3 1.22 1.22 1.22 1.22 1.22 1.22 1.12 1.12 1.12 1.12 1.12 1.12 1.12 1.12 1.05 1.05 1.05 1.05 1.05 1.05 1.05 1.05 1.05 1.05 1.05 1.05
1.65 1.65 1.65 1.65 1.65 1.65 1.5 1.5 1.5 1.5 1.5 1.5 1.4 1.4 1.4 1.4 1.4 1.4 1.35 1.35 1.35 1.35 1.35 1.28 1.28 1.28 1.28 1.28 1.28 1.28 1.22 1.22 1.22 1.22 1.22 1.22 1.22 1.22 1.22 1.22 1.22
1.7 1.7 1.7 1.7 1.7 1.7 1.7 1.7 1.7 1.7 1.7 1.55 1.55 1.55 1.55 1.55 1.55 1.55 1.45 1.45 1.45 1.45 1.45 1.45 1.38 1.38 1.38 1.38 1.38 1.38 1.38 1.38 1.38 1.32 1.32 1.32 1.32 1.32 1.32 1.32 1.32
1.75 1.75 1.75 1.75 1.75 1.75 1.75 1.75 1.75 1.75 1.75 1.75 1.75 1.6 1.6 1.6 1.6 1.6 1.6 1.6 1.6 1.55 1.55 1.55 1.55 1.48 1.48 1.48 1.48 1.48 1.48 1.48 1.48 1.48 1.48 1.48 1.48 1.48 1.48 1.48 1.48
1.75 1.75 1.75 1.75 1.75 1.75 1.75 1.75 1.75 1.75 1.75 1.75 1.75 1.75 1.62 1.62 1.62 1.62 1.62 1.62 1.62 1.6 1.6 1.6 1.6 1.6 1.6 1.6 1.6 1.6 1.6 1.6 1.6 1.6 1.6 1.6 1.6 1.6 1.6 1.6 1.6
1.6 1.6 1.6 1.6 1.6 1.6 1.6 1.6 1.6 1.6 1.6 1.6 1.7 1.7 1.7 1.7 1.7 1.7 1.7 1.7 1.7 1.7 1.7 1.7 1.7 1.7 1.7 1.7 1.7 1.7 1.7 1.7 1.7 1.7 1.7 1.7 1.7 1.8 1.8 1.8 1.8
1.6 1.6 1.6 1.6 1.6 1.6 1.6 1.6 1.6 1.75 1.75 1.75 1.75 1.75 1.75 1.75 1.75 1.75 1.75 1.75 1.75 1.85 1.85 1.85 1.85 1.85 1.85 1.85 1.85 1.85 1.85 1.85 1.95 1.95 1.95 1.95 1.95 1.95 1.95 1.95 1.95
1.75 1.75 1.75 1.75 1.75 1.75 1.75 1.75 1.75 1.75 1.75 1.75 1.75 1.85 1.85 1.85 1.85 1.85 1.85 1.85 1.85 1.95 1.95 1.95 1.95 1.95 1.95 1.95 1.95 1.95 2.05 2.05 2.05 2.05 2.05 2.05 2.05 2.05 2.05 2.05 2.05
1.9 1.9 1.9 1.9 1.9 1.9 1.9 2 2 2 2 2 2 2 2 2 2.05 2.05 2.05 2.05 2.05 2.05 2.05 2.05 2.15 2.15 2.15 2.15 2.15 2.15 2.15 2.15 2.15 2.15 2.15 2.15 2.15 2.15 2.15 2.15 2.15
}\phaseangle
\newcommand\buildcoords[2]{%
  \gdef#2{}%
  \pgfplotsforeachungrouped \rr in {0,...,48}{%
    \pgfplotsforeachungrouped \cc in {0,...,40}{%
      \pgfplotstablegetelem{\rr}{[index]\cc}\of#1%
      \xdef#2{#2 (\cc,\rr) [\pgfplotsretval]}%
    }}}
\buildcoords{\coherence}{\coordsA}
\buildcoords{\phaseangle}{\coordsB}
\newcommand\coiline{\addplot[white,line width=1.9bp,dash pattern=on 7.7bp off 8.0bp,forget plot] coordinates {
(1.55,-0.5)(1.65,3.32)(1.75,5.96)(1.85,8.94)(1.95,12.1)(2.05,15.6)(2.2,17.7)(2.7,23.18)(2.8,24.5)(2.94,26.4)(3.14,27.9)(3.34,29.27)(3.64,30.8)(3.83,32.3)(4.13,33.65)(4.43,34.8)(4.93,36.5)(5.52,38.03)(6.02,39.2)(6.52,40.03)(7.21,41.2)(8.1,42.3)(9.1,43.3)(10.3,44.2)(11.3,44.8)(12.3,45.4)(13.87,45.9)(15.07,46.45)(16.26,46.8)(17.65,47.1)(19.04,47.4)(20,47.6)
(20.96,47.4)(22.35,47.1)(23.74,46.8)(24.93,46.45)(26.13,45.9)(27.7,45.4)(28.7,44.8)(29.7,44.2)(30.9,43.3)(31.9,42.3)(32.79,41.2)(33.48,40.03)(33.98,39.2)(34.48,38.03)(35.07,36.5)(35.57,34.8)(35.87,33.65)(36.17,32.3)(36.36,30.8)(36.66,29.27)(36.86,27.9)(37.06,26.4)(37.2,24.5)(37.3,23.18)(37.8,17.7)(37.95,15.6)(38.05,12.1)(38.15,8.94)(38.25,5.96)(38.35,3.32)(38.45,0)
};}
\pgfplotsset{
 heat/.style={
  at={(106.25bp,#1)},anchor=south west,scale only axis,width=526.25bp,height=533.5bp,
  xmin=-0.5,xmax=40.5,ymin=-0.5,ymax=48.5,y dir=reverse,axis on top,
  tick align=inside,major tick length=5.5bp,
  axis line style={draw=axgray,line width=.5bp},
  every tick/.style={draw=axgray,line width=.5bp},
  xtick={0,...,40},
  xticklabels={1363,1364,1365,1366,1367,1368,1369,1370,1371,1372,1373,1374,1375,1376,1377,1378,1379,1380,1381,1382,1383,1384,1385,1386,1387,1388,1389,1390,1391,1392,1393,1394,1395,1396,1397,1398,1399,1400,1401,1402,1403},
  x tick label style={rotate=90,anchor=east,inner sep=0pt,xshift=-6bp},
  ytick={0,3,5.66,8.22,10.67,12.98,15.05,17.12,18.97,20.8,22.51,24.11,25.66,27.1,28.43,29.71,30.93,32.06,33.12,34.13,35.11,36,36.85,37.65,38.43,39.15,39.81,40.45,41.06,41.63,42.17,42.67,43.15,43.6,44.03,44.43,44.81,45.17,45.51,45.83,46.13,46.41,46.68,46.93,47.17,47.4,47.62,47.81,48},
  yticklabels={2.09 years,2.22 years,2.35 years,2.49 years,2.64 years,2.80 years,2.96 years,3.14 years,3.32 years,3.52 years,3.73 years,3.95 years,4.19 years,4.44 years,4.70 years,4.98 years,5.28 years,5.59 years,5.92 years,,6.65 years,,7.46 years,,8.38 years,,9.40 years,,10.56 years,,11.85 years,,,14.09 years,,,16.76 years,,,19.93 years,,,,25.10 years,,,,,33.51 years},
  y tick label style={anchor=east,inner sep=0pt,xshift=-6bp,yshift=-2.5bp},
  tick label style={font=\fontsize{14.4bp}{16bp}\selectfont,color=axgray},
  xlabel={Time (Years)},ylabel={Cycle Periods in Years (T=1/Freq)},
  every axis x label/.style={at={(axis description cs:0.5,-0.0975)},anchor=center,font=\fontsize{16bp}{18bp}\selectfont,color=axgray},
  every axis y label/.style={at={(axis description cs:-0.181,0.5)},rotate=90,anchor=center,font=\fontsize{16bp}{18bp}\selectfont,color=axgray},
  title style={font=\fontsize{16bp}{20bp}\selectfont\bfseries,align=center,at={(axis description cs:0.5,1)},anchor=south,yshift=-4.5bp,inner sep=0pt},
  colorbar sampled,
 },
 cbar/.style={at={(parent axis.north east)},anchor=north west,xshift=7.5bp,width=28.75bp,samples=65,
  axis line style={draw=axgray,line width=.5bp},axis on top,
  tick align=inside,major tick length=5bp,
  every tick/.style={draw=axgray,line width=.5bp},
  ytick pos=right,yticklabel pos=right,xtick=\empty,
  y tick label style={anchor=west,inner sep=0pt,xshift=4.5bp},
 },
}
\begin{document}
\begin{tikzpicture}
\path[use as bounding box] (0,0) rectangle (781.25bp,1563bp);
\begin{axis}[heat=912.25bp,colormap name=parula,colormap access=piecewise constant,
  point meta min=0,point meta max=1,
  title={Wavelet Coherence Analysis\\Magnitude-Squared (R\textasciicircum 2) (0 to 1)\\Time Series: DECILE0 to\ \ x TAX-INCOME to GDP\\1363-1403 (41 years) - Annually, Ref\#: 3 \& 29},
  colorbar style={cbar,ytick={0,0.1,0.2,0.3,0.4,0.5,0.6,0.7,0.8,0.9,1},yticklabels={0,0.1,0.2,0.3,0.4,0.5,0.6,0.7,0.8,0.9,1}}]
\edef\tmp{\noexpand\addplot[matrix plot*,mesh/cols=41,point meta=explicit] coordinates {\coordsA};}\tmp
\coiline
\end{axis}
\begin{axis}[heat=171.75bp,colormap name=hsvsixtyfour,colormap access=piecewise constant,
  point meta min=-3.14159,point meta max=3.14159,
  title={Phase Angle of Smoothed Wavelet Cross-Spectrum Coefficients (-$\pi$ to $\pi$)\\Time Series: DECILE0 to\ \ x TAX-INCOME to GDP\\1363-1403 (41 years) - Annually, Ref\#: 3 \& 29},
  colorbar style={cbar,ytick={-3,-2,-1,0,1,2,3},yticklabels={-3,-2,-1,0,1,2,3}}]
\edef\tmp{\noexpand\addplot[matrix plot*,mesh/cols=41,point meta=explicit] coordinates {\coordsB};}\tmp
\coiline
\end{axis}
\end{tikzpicture}
\end{document}
